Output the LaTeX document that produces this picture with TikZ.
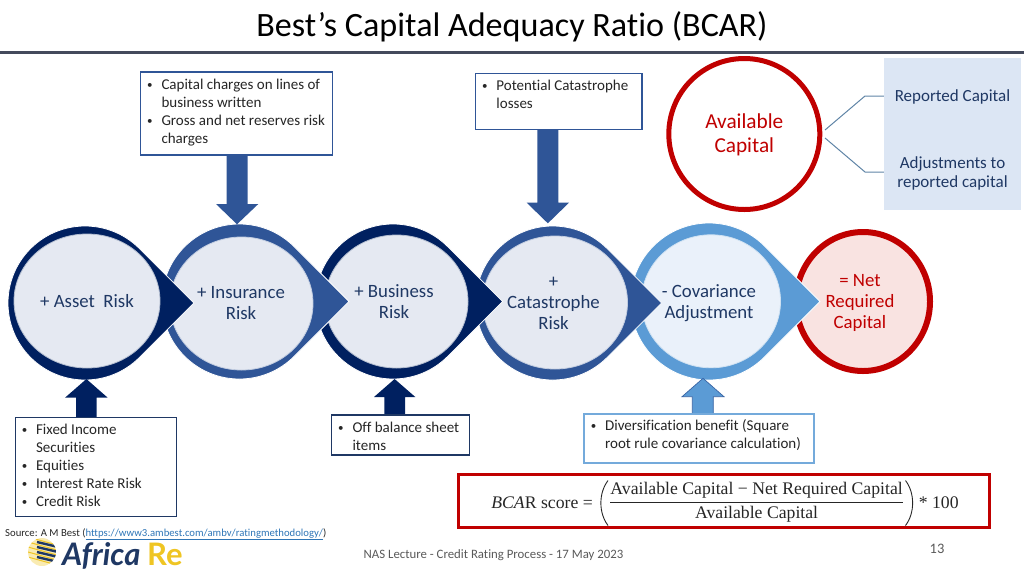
\documentclass[tikz,border=0pt]{standalone}
\usepackage{fontspec}
\usetikzlibrary{shapes.geometric}
\setmainfont[Ligatures=NoCommon]{Carlito}
\newfontfamily\fserif{Liberation Serif}
\newfontfamily\flogo{Lato}
\definecolor{navy}{HTML}{002060}
\definecolor{midblue}{HTML}{2F5597}
\definecolor{lightblue}{HTML}{5B9BD5}
\definecolor{txtnavy}{HTML}{1F3864}
\definecolor{darkred}{HTML}{C00000}
\definecolor{innerA}{HTML}{E5E9F2}
\definecolor{innerB}{HTML}{EAF1FA}
\definecolor{innerC}{HTML}{F9E3E1}
\definecolor{sidebox}{HTML}{DCE6F4}
\definecolor{lineblue}{HTML}{5F84A6}
\definecolor{rulegray}{HTML}{444A5C}
\definecolor{foot}{HTML}{595959}
\definecolor{linkblue}{HTML}{2E75B6}
\definecolor{logoyellow}{HTML}{EFC523}
\newcommand\tear[4]{\path[fill=#4,draw=white,line width=.8pt] ({#1+#3*cos(45)},{#2+#3*sin(45)}) arc[start angle=45,end angle=315,radius=#3] -- ({#1+1.4142*#3},#2) -- cycle;}
% #1 y start, #2/#3 shaft left/right, #4 y head base, #5/#6 head left/right, #7 tip x, #8 tip y, #9 style
\newcommand\blockarrow[9]{\path[#9] (#2,#1) -- (#3,#1) -- (#3,#4) -- (#6,#4) -- (#7,#8) -- (#5,#4) -- (#2,#4) -- cycle;}
\newcommand\bul{\makebox[14.3pt][l]{\raisebox{0.8pt}{\fontsize{11}{11}\selectfont •}}}
\newcommand\fb[1]{\noindent\hspace*{6.5pt}\rule{0pt}{17pt}\bul #1\par}
\newcommand\nb[1]{\noindent\hspace*{6.5pt}\bul #1\par}
\newcommand\cl[1]{\noindent\hspace*{20.8pt}#1\par}
\newcommand\boxtxt[3]{\parbox[c][#2pt][t]{#1pt}{#3}}
\tikzset{
  infobox/.style={draw=midblue,line width=1.5pt,fill=white,inner sep=0pt,font=\fontsize{15}{18}\selectfont,text=black!85},
  inner/.style={shape=ellipse,inner sep=0pt,line width=.8pt},
  ctext/.style={align=center,inner sep=0pt,text=txtnavy,font=\fontsize{18.8}{21}\selectfont},
  rtext/.style={align=center,inner sep=0pt,text=darkred,font=\fontsize{18.8}{21}\selectfont},
  stext/.style={align=center,inner sep=0pt,text=txtnavy,font=\fontsize{17}{18.5}\selectfont},
  ftext/.style={inner sep=0pt,font=\fserif\fontsize{17.7}{20}\selectfont,text=black!85},
  link/.style={draw=lineblue,line width=1pt},
}
\begin{document}
\begin{tikzpicture}[x=1pt,y=1pt,yscale=-1]
\useasboundingbox (0,0) rectangle (1024,576);
% title
\node[inner sep=0pt,font=\fontsize{34.1}{36}\selectfont,text=black] (title) at (512,27) {Best’s Capital Adequacy Ratio (BCAR)};
\fill[rulegray] (0,51.2) rectangle (1024,54.2);

% net required capital
\node[shape=ellipse,draw=darkred,line width=6pt,fill=innerC,minimum width=134pt,minimum height=139pt,inner sep=0pt] (net) at (863,301.5) {};
% teardrops, right to left
\tear{709}{301.5}{78.5}{lightblue}
\node[inner,draw=white!70!lightblue,fill=innerB,minimum width=139pt,minimum height=133pt] (cov) at (711,301.3) {};
\tear{552.7}{303}{77}{midblue}
\node[inner,draw=white!70!midblue,fill=innerA,minimum width=145pt,minimum height=133pt] (cat) at (555,302.5) {};
\tear{393}{301.5}{77.5}{navy}
\node[inner,draw=white!70!navy,fill=innerA,minimum width=143pt,minimum height=133pt] (bus) at (396.5,301.5) {};
\tear{239.4}{301.5}{77.5}{midblue}
\node[inner,draw=white!70!midblue,fill=innerA,minimum width=143pt,minimum height=133pt] (ins) at (241.5,303.5) {};
\tear{85}{303}{77}{navy}
\node[inner,draw=white!70!navy,fill=innerA,minimum width=146pt,minimum height=134pt] (ast) at (87,301) {};

% circle texts
\node[ctext] (astT) at (87,301) {+ Asset\ \ Risk};
\node[ctext] (insT) at (241,303) {+ Insurance\\Risk};
\node[ctext] (busT) at (394,301.5) {+ Business\\Risk};
\node[ctext] (catT) at (553.5,303.5) {+\\Catastrophe\\Risk};
\node[ctext] (covT) at (709,303) {- Covariance\\Adjustment};
\node[rtext] (netT) at (860,303) {= Net\\Required\\Capital};

% block arrows
\blockarrow{155}{226.7}{247.7}{204}{216}{258.3}{237}{224.3}{fill=midblue}
\blockarrow{129}{537.3}{558.3}{202.7}{526.7}{569}{547.85}{223.3}{fill=midblue}
\blockarrow{417}{76}{96.7}{397.7}{65}{107.7}{86.4}{379}{fill=navy}
\blockarrow{415}{384.3}{405}{397}{374}{415.3}{394.6}{379}{fill=navy}
\blockarrow{413.7}{692.3}{713.3}{396.7}{682}{724}{703}{378.3}{fill=lightblue,draw=midblue!80!lightblue,line width=.7pt}

% top boxes
\node[infobox] (b1) at (236.5,113.5) {\boxtxt{191.6}{83}{\fb{Capital charges on lines of}\cl{business written}\nb{Gross and net reserves risk}\cl{charges}}};
\node[infobox] (b2) at (558.8,101.3) {\boxtxt{166.3}{56}{\fb{Potential Catastrophe}\cl{losses}}};
% bottom boxes
\node[infobox,draw=txtnavy] (b3) at (96,467) {\boxtxt{161.4}{99.4}{\fb{Fixed Income}\cl{Securities}\nb{Equities}\nb{Interest Rate Risk}\nb{Credit Risk}}};
\node[infobox,draw=txtnavy] (b4) at (400.5,435) {\boxtxt{137.6}{40}{\fb{Off balance sheet}\cl{items}}};
\node[infobox,draw=lightblue!85!white,line width=2pt] (b5) at (699.2,438.2) {\boxtxt{229.7}{49}{\fb{Diversification benefit (Square}\cl{root rule covariance calculation)}}};

% available capital
\node[shape=circle,draw=darkred,line width=5pt,fill=white,minimum size=151pt,inner sep=0pt] (avail) at (744.3,134) {};
\node[inner sep=0pt,align=center,text=darkred,font=\fontsize{21.3}{24}\selectfont] (availT) at (744.3,135) {Available\\Capital};
\node[fill=sidebox,minimum width=137pt,minimum height=152pt,inner sep=0pt] (side) at (952.5,134) {};
\node[stext] (rep) at (952.5,97) {Reported Capital};
\node[stext] (adj) at (952.5,173.3) {Adjustments to\\reported capital};
\coordinate (a1) at (825,130);
\coordinate (a2) at (825,138);
\coordinate (j1) at (865,96);
\coordinate (j2) at (865,172);
\draw[link] (a1) -- (j1) -- (j1-|side.west);
\draw[link] (a2) -- (j2) -- (j2-|side.west);

% formula
\node[draw=darkred,line width=3pt,minimum width=531pt,minimum height=53pt,inner sep=0pt] (fbox) at (723.5,501) {};
\node[ftext,anchor=base east] (lhs) at (593,508) {\textit{BCA}R score =};
\node[ftext] (num) at (756.6,490) {Available Capital − Net Required Capital};
\node[ftext] (den) at (756.6,514) {Available Capital};
\coordinate (barY) at (0,502.5);
\draw[black!85,line width=.8pt] (num.west|-barY) -- (num.east|-barY);
\draw[black!85,line width=.9pt] (608,480.5) .. controls (598.5,493) and (598.5,513) .. (608,525.5);
\draw[black!85,line width=.9pt] (905.5,480.5) .. controls (915,493) and (915,513) .. (905.5,525.5);
\node[ftext,anchor=base west] (rhs) at (918.6,508) {* 100};

% footer
\node[anchor=base west,inner sep=0pt,font=\fontsize{10.7}{13}\selectfont,text=black!85] (src) at (5,536) {Source: A M Best ({\color{linkblue}\underline{https://www3.ambest.com/ambv/ratingmethodology/}})};
\node[inner sep=0pt,font=\fontsize{12.8}{14}\selectfont,text=foot] (lect) at (493.5,555) {NAS Lecture - Credit Rating Process - 17 May 2023};
\node[inner sep=0pt,font=\fontsize{14.5}{16}\selectfont,text=foot] (pg) at (937,549) {13};

% logo
\begin{scope}
\clip (42,552) circle (14);
\fill[logoyellow!35!white] (42,552) circle (14);
\foreach \yy/\cc in {541/logoyellow,546/logoyellow,551/logoyellow,556/logoyellow,561/logoyellow}
  \draw[\cc,line width=1pt] (28,\yy-4) -- (57,\yy+4);
\foreach \yy in {543,548,553,558}
  \draw[txtnavy,line width=2.4pt] (37,\yy-1) -- (56,\yy+3.5);
\end{scope}
\node[anchor=base west,inner sep=0pt,font=\flogo\bfseries\itshape\fontsize{31}{33}\selectfont,text=txtnavy] (afr) at (62,565) {Africa};
\node[anchor=base west,inner sep=0pt,font=\flogo\bfseries\fontsize{31}{33}\selectfont,text=logoyellow] (re) at (147,565) {Re};
\end{tikzpicture}
\end{document}
